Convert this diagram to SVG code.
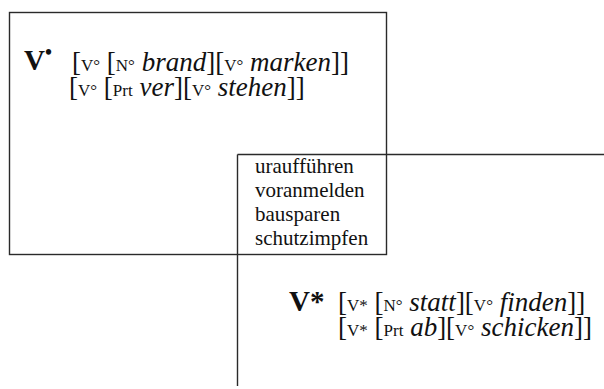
<svg xmlns="http://www.w3.org/2000/svg" width="604" height="389" viewBox="0 0 604 389">
<style>
.frame{fill:none;stroke:#2a2a2a;stroke-width:1.4}
.t{font-family:"Liberation Serif","Times New Roman",serif;fill:#111}
.big{font-size:29px;font-weight:bold}
.m{font-size:27px}
.s{font-size:17px}
.i{font-style:italic}
.w{font-size:21px}
</style>
<rect width="604" height="389" fill="#fff"/>
<g id="frames">
<rect class="frame" x="9.5" y="12.5" width="377" height="242"/>
<path class="frame" d="M237.5 154.5 H604 M237.5 154.5 V386"/>
</g>
<g id="vdot-node">
<text class="t big" x="24" y="70">V<tspan font-size="20" dy="-11">•</tspan></text>
<text class="t m" x="72" y="71">[<tspan class="s">V°</tspan> [<tspan class="s">N°</tspan> <tspan class="i">brand</tspan>][<tspan class="s">V°</tspan> <tspan class="i">marken</tspan>]]</text>
<text class="t m" x="69" y="96">[<tspan class="s">V°</tspan> [<tspan class="s">Prt</tspan> <tspan class="i">ver</tspan>][<tspan class="s">V°</tspan> <tspan class="i">stehen</tspan>]]</text>
</g>
<g id="list-node">
<text class="t w" x="255" y="173">uraufführen</text>
<text class="t w" x="255" y="197">voranmelden</text>
<text class="t w" x="255" y="221">bausparen</text>
<text class="t w" x="255" y="245">schutzimpfen</text>
</g>
<g id="vstar-node">
<text class="t big" x="289" y="311">V*</text>
<text class="t m" x="338" y="311">[<tspan class="s">V*</tspan> [<tspan class="s">N°</tspan> <tspan class="i">statt</tspan>][<tspan class="s">V°</tspan> <tspan class="i">finden</tspan>]]</text>
<text class="t m" x="338" y="336">[<tspan class="s">V*</tspan> [<tspan class="s">Prt</tspan> <tspan class="i">ab</tspan>][<tspan class="s">V°</tspan> <tspan class="i">schicken</tspan>]]</text>
</g>
</svg>
